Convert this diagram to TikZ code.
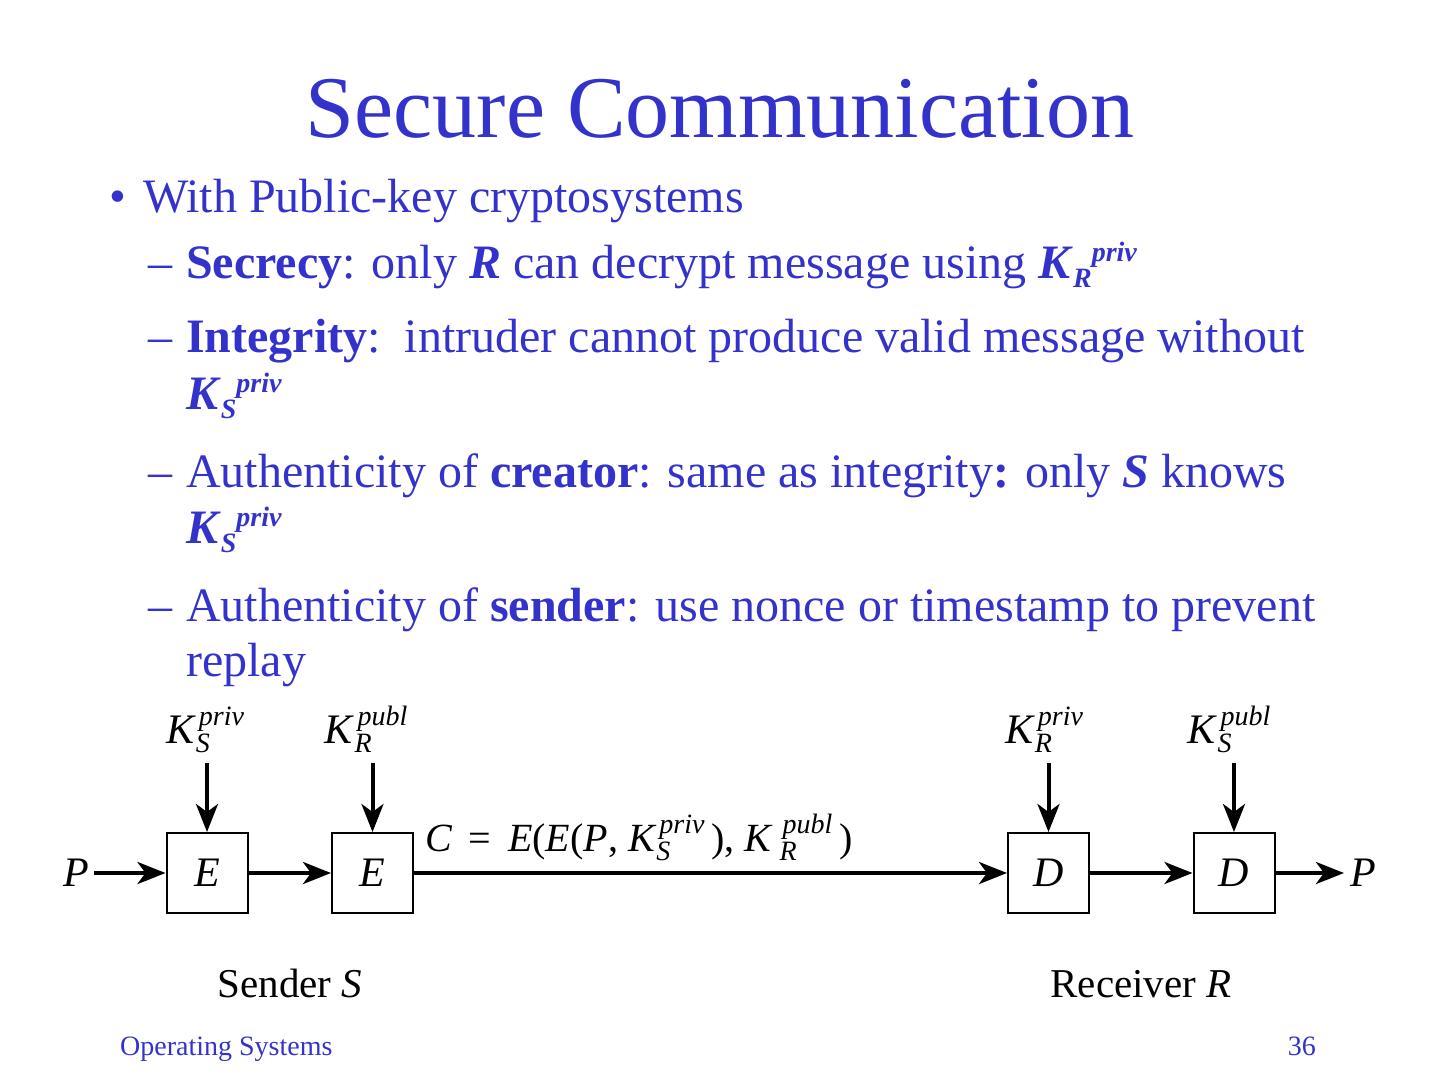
\documentclass[tikz,border=0pt]{standalone}
\usepackage{fontspec}
\setmainfont{Liberation Serif}
\usetikzlibrary{arrows.meta}
\definecolor{slideblue}{RGB}{51,51,204}
\newcommand\fs[1]{\fontsize{#1}{#1}\selectfont}
\newcommand\bik[1]{\textbf{\textit{#1}}}
% sequential subscript / superscript as in the slide text
\newcommand\Kslide[1]{\bik{K}{\fs{28}\raisebox{-9pt}{\bik{#1}}\raisebox{17pt}{\bik{priv}}}}
% stacked subscript / superscript for the figure
\newcommand\dsubsup[2]{{\fs{28}\itshape\setbox0\hbox{#1}\setbox2\hbox{\kern3pt#2}%
  \raisebox{-9pt}{\copy0}\kern-\wd0\raisebox{18pt}{\copy2}%
  \ifdim\wd0>\wd2\kern\dimexpr\wd0-\wd2\relax\fi}}
\newcommand\dkey[3]{\textit{#1}\dsubsup{#2}{#3}}
\begin{document}
\begin{tikzpicture}[x=1pt,y=-1pt,
  slide/.style={text=slideblue,font=\fs{48},inner sep=0pt,anchor=base west},
  blk/.style={draw=black,line width=2pt,minimum width=81pt,minimum height=80pt,inner sep=0pt,font=\fs{42}\itshape},
  keylbl/.style={inner xsep=0pt,inner ysep=11pt,anchor=base,font=\fs{42}},
  flow/.style={line width=4pt,-{Stealth[length=28pt,width=22pt,inset=8pt]}},
  dtext/.style={inner sep=0pt,anchor=base,font=\fs{41}}
]
\useasboundingbox (0,0) rectangle (1440,1080);

% title
\node[text=slideblue,font=\fs{88},inner sep=0pt,anchor=base] (title) at (720,137) {Secure Communication};

% bullet list
\node[text=slideblue,font=\fs{48},inner sep=0pt,anchor=base west] (bul) at (109,212) {•};
\node[slide] (l1) at (143,212) {With Public-key cryptosystems};

\node[slide] (d1) at (148,278) {–};
\node[slide] (l2) at (186,278) {\textbf{Secrecy}: only \bik{R} can decrypt message using \Kslide{R}};

\node[slide] (d2) at (148,352) {–};
\node[slide] (l3) at (186,352) {\textbf{Integrity}:\ \ intruder cannot produce valid message without};
\node[slide] (l3b) at (186,409) {\Kslide{S}};

\node[slide] (d3) at (148,487) {–};
\node[slide] (l4) at (186,487) {Authenticity of \textbf{creator}: same as integrity\textbf{:} only \bik{S} knows};
\node[slide] (l4b) at (186,543) {\Kslide{S}};

\node[slide] (d4) at (148,621) {–};
\node[slide] (l5) at (186,621) {Authenticity of \textbf{sender}: use nonce or timestamp to prevent};
\node[slide] (l5b) at (186,676) {replay};

% figure
\node[blk] (e1) at (207,873) {E};
\node[blk] (e2) at (372.5,873) {E};
\node[blk] (dd1) at (1048.5,873) {D};
\node[blk] (dd2) at (1234,873) {D};

\node[inner sep=0pt,font=\fs{42}\itshape] (pin) at (76,873) {P};
\node[inner sep=0pt,font=\fs{42}\itshape] (pout) at (1363,873) {P};

\node[keylbl] (k1) at (205,743) {\dkey{K}{S}{priv}};
\node[keylbl] (k2) at (366,743) {\dkey{K}{R}{publ}};
\node[keylbl] (k3) at (1044,743) {\dkey{K}{R}{priv}};
\node[keylbl] (k4) at (1229,743) {\dkey{K}{S}{publ}};

\draw[flow] (k1.south -| e1.north) -- (e1.north);
\draw[flow] (k2.south -| e2.north) -- (e2.north);
\draw[flow] (k3.south -| dd1.north) -- (dd1.north);
\draw[flow] (k4.south -| dd2.north) -- (dd2.north);

\coordinate (pstart) at ([xshift=5pt]pin.east);
\draw[flow] (pstart) -- (e1.west);
\draw[flow] (e1.east) -- (e2.west);
\draw[flow] (e2.east) -- (dd1.west);
\draw[flow] (dd1.east) -- (dd2.west);
\draw[flow] (dd2.east) -- ([xshift=-6pt]pout.west);

\node[inner sep=0pt,anchor=base west,font=\fs{40}] (cl) at (425,851)
  {\textit{C}\, = \,\textit{E}(\textit{E}(\textit{P}, \textit{K}\dsubsup{S}{priv}\,), \textit{K}\,\dsubsup{R}{publ}\,)};

\node[dtext] (snd) at (290,997) {Sender \textit{S}};
\node[dtext] (rcv) at (1141,997) {Receiver \textit{R}};

% footer
\node[text=slideblue,font=\fs{28},inner sep=0pt,anchor=base west] (foot) at (120,1055) {Operating Systems};
\node[text=slideblue,font=\fs{28},inner sep=0pt,anchor=base east] (pg) at (1316,1055) {36};
\end{tikzpicture}
\end{document}
